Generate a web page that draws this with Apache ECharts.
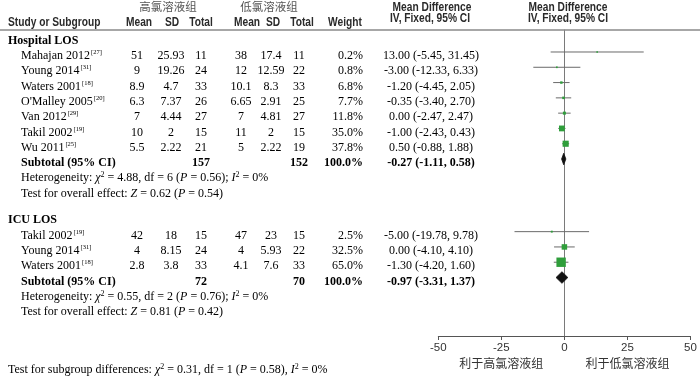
<!DOCTYPE html>
<html><head><meta charset="utf-8">
<script src="https://cdn.jsdelivr.net/npm/echarts@6/dist/echarts.min.js"></script>
<style>html,body{margin:0;padding:0;background:#fff}#c{width:700px;height:379px}</style>
</head><body><div id="c"></div>
<script>
// ---------- data ----------
const groupNames = ['Hospital LOS', 'ICU LOS'];

const hospStudies = ['Mahajan 2012', 'Young 2014', 'Waters 2001', "O'Malley 2005", 'Van 2012', 'Takil 2002', 'Wu 2011'];
const hospRefs = ['27', '31', '18', '20', '29', '19', '25'];
const hospHighMean = ['51', '9', '8.9', '6.3', '7', '10', '5.5'];
const hospHighSD = ['25.93', '19.26', '4.7', '7.37', '4.44', '2', '2.22'];
const hospHighN = [11, 24, 33, 26, 27, 15, 21];
const hospLowMean = ['38', '12', '10.1', '6.65', '7', '11', '5'];
const hospLowSD = ['17.4', '12.59', '8.3', '2.91', '4.81', '2', '2.22'];
const hospLowN = [11, 22, 33, 25, 27, 15, 19];
const hospWeight = [0.2, 0.8, 6.8, 7.7, 11.8, 35.0, 37.8];
const hospMD = [13.00, -3.00, -1.20, -0.35, 0.00, -1.00, 0.50];
const hospLo = [-5.45, -12.33, -4.45, -3.40, -2.47, -2.43, -0.88];
const hospHi = [31.45, 6.33, 2.05, 2.70, 2.47, 0.43, 1.88];

const icuStudies = ['Takil 2002', 'Young 2014', 'Waters 2001'];
const icuRefs = ['19', '31', '18'];
const icuHighMean = ['42', '4', '2.8'];
const icuHighSD = ['18', '8.15', '3.8'];
const icuHighN = [15, 24, 33];
const icuLowMean = ['47', '4', '4.1'];
const icuLowSD = ['23', '5.93', '7.6'];
const icuLowN = [15, 22, 33];
const icuWeight = [2.5, 32.5, 65.0];
const icuMD = [-5.00, 0.00, -1.30];
const icuLo = [-19.78, -4.10, -4.20];
const icuHi = [9.78, 4.10, 1.60];

// subtotals: [hospital, icu]
const subHighN = [157, 72];
const subLowN = [152, 70];
const subMD = [-0.27, -0.97];
const subLo = [-1.11, -3.31];
const subHi = [0.58, 1.37];
const hetChi = ['4.88', '0.55'];
const hetDf = [6, 2];
const hetP = ['0.56', '0.76'];
const hetI2 = [0, 0];
const effZ = ['0.62', '0.81'];
const effP = ['0.54', '0.42'];
const subgroupTest = {chi: '0.31', df: 1, p: '0.58', i2: 0};

const xTicks = {min: -50, max: 50, interval: 25};
const favourLabels = [[-25, '利于高氯溶液组'], [25, '利于低氯溶液组']];

// ---------- layout ----------
const ROW0 = 40.7, ROWH = 15.29, MARK_SHIFT = 4;
const pxRow = y => (y - ROW0) / ROWH;
const SERIF = '"Liberation Serif","DejaVu Serif",serif';
const SANS = '"Liberation Sans","DejaVu Sans",sans-serif';
const CJK = '"Noto Sans CJK SC",sans-serif';
const INK = '#000';
const COL = {group: 8, name: 21, hMean: 137, hSD: 171, hN: 201, lMean: 241, lSD: 271, lN: 299, weight: 363, ci: 431};

const RICH = {
  n: {fontFamily: SERIF, fontSize: 12, fill: INK, lineHeight: 14},
  b: {fontFamily: SERIF, fontSize: 12, fontWeight: 'bold', fill: INK, lineHeight: 14},
  it: {fontFamily: SERIF, fontSize: 12, fontStyle: 'italic', fill: INK, lineHeight: 14},
  sup: {fontFamily: SERIF, fontSize: 6.5, fill: INK, lineHeight: 7, verticalAlign: 'top', padding: [0, 0, 0, 1]},
  s2: {fontFamily: SERIF, fontSize: 8, fill: INK, lineHeight: 8, verticalAlign: 'top'}
};

const cells = [];
function add(x, row, text, opt) { cells.push(Object.assign({x: x, row: row, text: text}, opt || {})); }
const HEAD = {font: 'bold 12px ' + SANS, fill: '#2a2a2a', align: 'center', sx: 0.85};
const CJKH = {font: '11.5px ' + CJK, fill: '#555', align: 'center'};
const T = {font: '12px ' + SERIF, fill: INK, align: 'center'};
const TB = {font: 'bold 12px ' + SERIF, fill: INK, align: 'center'};

// headers
add(168, pxRow(7), '高氯溶液组', CJKH);
add(269, pxRow(7), '低氯溶液组', CJKH);
add(432, pxRow(7.5), 'Mean Difference', HEAD);
add(568, pxRow(7.5), 'Mean Difference', HEAD);
add(8, pxRow(22.5), 'Study or Subgroup', Object.assign({}, HEAD, {align: 'left'}));
add(139, pxRow(22.5), 'Mean', HEAD);
add(172, pxRow(22.5), 'SD', HEAD);
add(201, pxRow(22.5), 'Total', HEAD);
add(247, pxRow(22.5), 'Mean', HEAD);
add(273, pxRow(22.5), 'SD', HEAD);
add(302, pxRow(22.5), 'Total', HEAD);
add(345, pxRow(22.5), 'Weight', HEAD);
add(430, pxRow(18.5), 'IV, Fixed, 95% CI', HEAD);
add(568, pxRow(18.5), 'IV, Fixed, 95% CI', HEAD);

const groups = [
  {start: 0, studies: hospStudies, refs: hospRefs, hm: hospHighMean, hs: hospHighSD, hn: hospHighN, lm: hospLowMean, ls: hospLowSD, ln: hospLowN, w: hospWeight, md: hospMD, lo: hospLo, hi: hospHi},
  {start: 11.75, studies: icuStudies, refs: icuRefs, hm: icuHighMean, hs: icuHighSD, hn: icuHighN, lm: icuLowMean, ls: icuLowSD, ln: icuLowN, w: icuWeight, md: icuMD, lo: icuLo, hi: icuHi}
];
const fmtCI = (m, l, h) => m.toFixed(2) + ' (' + l.toFixed(2) + ', ' + h.toFixed(2) + ')';

const ciData = [], sqData = [], dmData = [];
groups.forEach((g, gi) => {
  add(COL.group, g.start, groupNames[gi], Object.assign({}, TB, {align: 'left'}));
  g.studies.forEach((s, i) => {
    const r = g.start + 1 + i;
    add(COL.name, r, '{n|' + s + '}{sup|[' + g.refs[i] + ']}', Object.assign({}, T, {align: 'left'}));
    add(COL.hMean, r, g.hm[i], T);
    add(COL.hSD, r, g.hs[i], T);
    add(COL.hN, r, String(g.hn[i]), T);
    add(COL.lMean, r, g.lm[i], T);
    add(COL.lSD, r, g.ls[i], T);
    add(COL.lN, r, String(g.ln[i]), T);
    add(COL.weight, r, g.w[i].toFixed(1) + '%', Object.assign({}, T, {align: 'right'}));
    add(COL.ci, r, fmtCI(g.md[i], g.lo[i], g.hi[i]), T);
    ciData.push([g.lo[i], g.hi[i], r]);
    sqData.push([g.md[i], r, g.w[i]]);
  });
  const rs = g.start + 1 + g.studies.length;
  add(COL.name, rs, 'Subtotal (95% CI)', Object.assign({}, TB, {align: 'left'}));
  add(COL.hN, rs, String(subHighN[gi]), TB);
  add(COL.lN, rs, String(subLowN[gi]), TB);
  add(COL.weight, rs, '100.0%', Object.assign({}, TB, {align: 'right'}));
  add(COL.ci, rs, fmtCI(subMD[gi], subLo[gi], subHi[gi]), TB);
  dmData.push([subMD[gi], subLo[gi], subHi[gi], rs]);
  add(COL.name, rs + 1, '{n|Heterogeneity: }{it|χ}{s2|2}{n| = ' + hetChi[gi] + ', df = ' + hetDf[gi] + ' (}{it|P}{n| = ' + hetP[gi] + '); }{it|I}{s2|2}{n| = ' + hetI2[gi] + '%}', Object.assign({}, T, {align: 'left'}));
  add(COL.name, rs + 2, '{n|Test for overall effect: }{it|Z}{n| = ' + effZ[gi] + ' (}{it|P}{n| = ' + effP[gi] + ')}', Object.assign({}, T, {align: 'left'}));
});
add(COL.group, pxRow(370), '{n|Test for subgroup differences: }{it|χ}{s2|2}{n| = ' + subgroupTest.chi + ', df = ' + subgroupTest.df + ' (}{it|P}{n| = ' + subgroupTest.p + '), }{it|I}{s2|2}{n| = ' + subgroupTest.i2 + '%}', Object.assign({}, T, {align: 'left'}));

// ---------- chart ----------
const chart = echarts.init(document.getElementById('c'), null, {renderer: 'canvas'});
const FTOP = 30, FBOT = 336, ROW0F = ROW0 - MARK_SHIFT;

chart.setOption({
  animation: false,
  backgroundColor: '#fff',
  grid: [
    {left: 438.3, right: 9.5, top: FTOP, bottom: 379 - FBOT, containLabel: false},
    {left: 0, top: 0, width: 700, height: 379, containLabel: false}
  ],
  xAxis: [
    {gridIndex: 0, type: 'value', min: xTicks.min, max: xTicks.max, interval: xTicks.interval,
      axisLine: {show: true, onZero: false, lineStyle: {color: '#555', width: 1}},
      axisTick: {show: true, length: 4, lineStyle: {color: '#555'}},
      axisLabel: {show: true, color: '#333', fontSize: 11.5, fontFamily: SANS, margin: 6},
      splitLine: {show: false}},
    {gridIndex: 1, type: 'value', min: 0, max: 700, show: false}
  ],
  yAxis: [
    {gridIndex: 0, type: 'value', inverse: true, min: (FTOP - ROW0F) / ROWH, max: (FBOT - ROW0F) / ROWH,
      axisLine: {show: true, onZero: true, lineStyle: {color: '#7a7a7a', width: 1}},
      axisTick: {show: false}, axisLabel: {show: false}, splitLine: {show: false}},
    {gridIndex: 1, type: 'value', inverse: true, min: -ROW0 / ROWH, max: (379 - ROW0) / ROWH, show: false}
  ],
  graphic: [
    {type: 'line', shape: {x1: 0, y1: 30, x2: 700, y2: 30}, style: {stroke: '#8a8a8a', lineWidth: 1.5}, z: 1}
  ],
  series: [
    {type: 'custom', xAxisIndex: 0, yAxisIndex: 0, data: ciData, clip: false, z: 2,
      renderItem: (params, api) => {
        const a = api.coord([api.value(0), api.value(2)]);
        const b = api.coord([api.value(1), api.value(2)]);
        return {type: 'line', shape: {x1: a[0], y1: a[1], x2: b[0], y2: b[1]}, style: {stroke: '#6a6a6a', lineWidth: 1}};
      }},
    {type: 'scatter', xAxisIndex: 0, yAxisIndex: 0, data: sqData, symbol: 'rect', z: 3,
      symbolSize: v => Math.max(1.5, 0.12 * v[2] + 1.6),
      itemStyle: {color: '#2f9e3b', opacity: 1}},
    {type: 'custom', xAxisIndex: 0, yAxisIndex: 0, data: dmData, clip: false, z: 4,
      renderItem: (params, api) => {
        const r = api.value(3);
        const c = api.coord([api.value(0), r]);
        const l = api.coord([api.value(1), r]);
        const h = api.coord([api.value(2), r]);
        const hh = 5.8;
        return {type: 'polygon', shape: {points: [[l[0], c[1]], [c[0], c[1] - hh], [h[0], c[1]], [c[0], c[1] + hh]]},
          style: {fill: '#111', stroke: '#111', lineWidth: 0.8}};
      }},
    {type: 'custom', xAxisIndex: 0, yAxisIndex: 0, data: favourLabels, clip: false, z: 4,
      renderItem: (params, api) => {
        const p = api.coord([api.value(0), (FBOT - ROW0F) / ROWH]);
        return {type: 'text', x: p[0], y: p[1] + 27,
          style: {text: favourLabels[params.dataIndex][1], font: '12px ' + CJK, fill: '#333', align: 'center', verticalAlign: 'middle'}};
      }},
    {type: 'custom', xAxisIndex: 1, yAxisIndex: 1, clip: false, z: 5,
      data: cells.map((c, i) => [c.x, c.row, i]),
      renderItem: (params, api) => {
        const c = cells[api.value(2)];
        const p = api.coord([c.x, c.row]);
        return {type: 'text', x: p[0], y: p[1], scaleX: c.sx || 1, scaleY: 1,
          style: {text: c.text, rich: RICH, font: c.font, fill: c.fill, align: c.align, verticalAlign: 'middle'}};
      }}
  ]
});
</script>
</body></html>
